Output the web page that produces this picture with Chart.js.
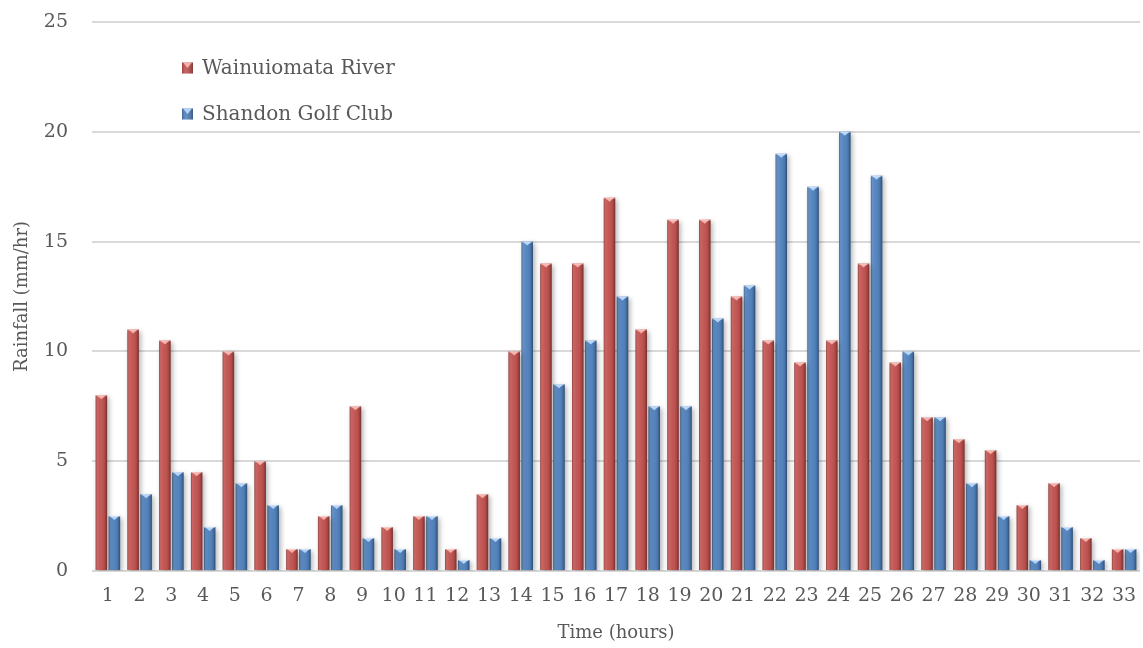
<!DOCTYPE html>
<html>
<head>
<meta charset="utf-8">
<script src="https://cdn.jsdelivr.net/npm/chart.js@4"></script>
<style>
  html, body { margin: 0; padding: 0; background: #ffffff; }
  #wrap { width: 1143px; height: 648px; position: relative; }
</style>
</head>
<body>
<div id="wrap"><canvas id="rain"></canvas></div>
<script>
// Hourly rainfall at two gauges
const hours = ['1','2','3','4','5','6','7','8','9','10','11','12','13','14','15','16','17','18','19','20','21','22','23','24','25','26','27','28','29','30','31','32','33'];
const wainuiomata = [8, 11, 10.5, 4.5, 10, 5, 1, 2.5, 7.5, 2, 2.5, 1, 3.5, 10, 14, 14, 17, 11, 16, 16, 12.5, 10.5, 9.5, 10.5, 14, 9.5, 7, 6, 5.5, 3, 4, 1.5, 1];
const shandon = [2.5, 3.5, 4.5, 2, 4, 3, 1, 3, 1.5, 1, 2.5, 0.5, 1.5, 15, 8.5, 10.5, 12.5, 7.5, 7.5, 11.5, 13, 19, 17.5, 20, 18, 10, 7, 4, 2.5, 0.5, 2, 0.5, 1];
const yTicks = [0, 5, 10, 15, 20, 25];

const FONT = "'DejaVu Serif', 'Liberation Serif', serif";
const TEXT = '#595959';
const RED = '#c0504d';
const BLUE = '#4f81bd';

// Bevelled look for each bar: soft side shading plus a light notch on top
const bevel = {
  id: 'bevel',
  beforeDatasetsDraw(chart) {
    const ctx = chart.ctx;
    ctx.save();
    ctx.shadowColor = 'rgba(0,0,0,0.3)';
    ctx.shadowBlur = 5;
    ctx.shadowOffsetX = 2;
    ctx.shadowOffsetY = 2;
  },
  afterDatasetsDraw(chart) {
    const ctx = chart.ctx;
    ctx.restore();
    chart.data.datasets.forEach((ds, di) => {
      const meta = chart.getDatasetMeta(di);
      meta.data.forEach(bar => {
        const w = bar.width;
        const l = bar.x - w / 2, r = bar.x + w / 2;
        const t = bar.y, b = bar.base;
        const g = ctx.createLinearGradient(l, 0, r, 0);
        g.addColorStop(0, 'rgba(0,0,0,0.3)');
        g.addColorStop(0.15, 'rgba(255,255,255,0.12)');
        g.addColorStop(0.45, 'rgba(255,255,255,0.04)');
        g.addColorStop(0.8, 'rgba(0,0,0,0.1)');
        g.addColorStop(1, 'rgba(0,0,0,0.4)');
        ctx.fillStyle = g;
        ctx.fillRect(l, t, w, b - t);
        // top notch
        ctx.beginPath();
        ctx.moveTo(l + 1, t);
        ctx.lineTo(r - 1, t);
        ctx.lineTo(bar.x, t + Math.min(4, (b - t)));
        ctx.closePath();
        ctx.fillStyle = di === 0 ? 'rgba(255,190,185,0.85)' : 'rgba(190,220,255,0.9)';
        ctx.fill();
        ctx.fillStyle = 'rgba(255,255,255,0.35)';
        ctx.fillRect(l, t, w, 1);
      });
    });
  }
};

// Legend drawn inside the plot area, stacked vertically
const innerLegend = {
  id: 'innerLegend',
  afterDraw(chart) {
    const ctx = chart.ctx;
    const x0 = chart.chartArea.left + 90;
    const rows = [chart.chartArea.top + 46, chart.chartArea.top + 92];
    ctx.save();
    ctx.font = "20px " + FONT;
    ctx.textBaseline = 'middle';
    chart.data.datasets.forEach((ds, i) => {
      const y = rows[i];
      const s = 11;
      ctx.fillStyle = ds.backgroundColor;
      ctx.fillRect(x0, y - s / 2, s, s);
      const g = ctx.createLinearGradient(x0, 0, x0 + s, 0);
      g.addColorStop(0, 'rgba(0,0,0,0.2)');
      g.addColorStop(0.3, 'rgba(255,255,255,0.1)');
      g.addColorStop(1, 'rgba(0,0,0,0.3)');
      ctx.fillStyle = g;
      ctx.fillRect(x0, y - s / 2, s, s);
      ctx.beginPath();
      ctx.moveTo(x0 + 1, y - s / 2);
      ctx.lineTo(x0 + s - 1, y - s / 2);
      ctx.lineTo(x0 + s / 2, y);
      ctx.closePath();
      ctx.fillStyle = i === 0 ? 'rgba(255,190,185,0.85)' : 'rgba(190,220,255,0.9)';
      ctx.fill();
      ctx.fillStyle = TEXT;
      ctx.textAlign = 'left';
      ctx.fillText(ds.label, x0 + s + 9, y + 1);
    });
    ctx.restore();
  }
};

new Chart(document.getElementById('rain'), {
  type: 'bar',
  data: {
    labels: hours,
    datasets: [
      { label: 'Wainuiomata River', data: wainuiomata, backgroundColor: RED },
      { label: 'Shandon Golf Club', data: shandon, backgroundColor: BLUE }
    ]
  },
  options: {
    responsive: true,
    maintainAspectRatio: false,
    animation: false,
    layout: { padding: { top: 22, right: 3, left: 0, bottom: 0 } },
    datasets: { bar: { categoryPercentage: 0.82, barPercentage: 0.88 } },
    plugins: {
      legend: { display: false },
      tooltip: { enabled: false }
    },
    scales: {
      x: {
        grid: { display: false },
        border: { display: false },
        ticks: { color: TEXT, font: { family: FONT, size: 19 }, padding: 6, maxRotation: 0, autoSkip: false },
        title: { display: true, text: 'Time (hours)', color: TEXT, font: { family: FONT, size: 18 }, padding: { top: 4, bottom: 4 } },
        afterFit(scale) { scale.height = 77; }
      },
      y: {
        min: 0, max: 25,
        afterBuildTicks(scale) { scale.ticks = yTicks.map(v => ({ value: v })); },
        grid: { color: '#d9d9d9', lineWidth: 2, drawTicks: false },
        border: { display: false },
        ticks: { color: TEXT, font: { family: FONT, size: 19 }, padding: 24 },
        title: { display: true, text: 'Rainfall (mm/hr)', color: TEXT, font: { family: FONT, size: 18 }, padding: { top: 12, bottom: 4 } },
        afterFit(scale) {
          scale.width = 92;
          scale.paddingTop = 0;
          scale.paddingBottom = 0;
        }
      }
    }
  },
  plugins: [bevel, innerLegend]
});
</script>
</body>
</html>
